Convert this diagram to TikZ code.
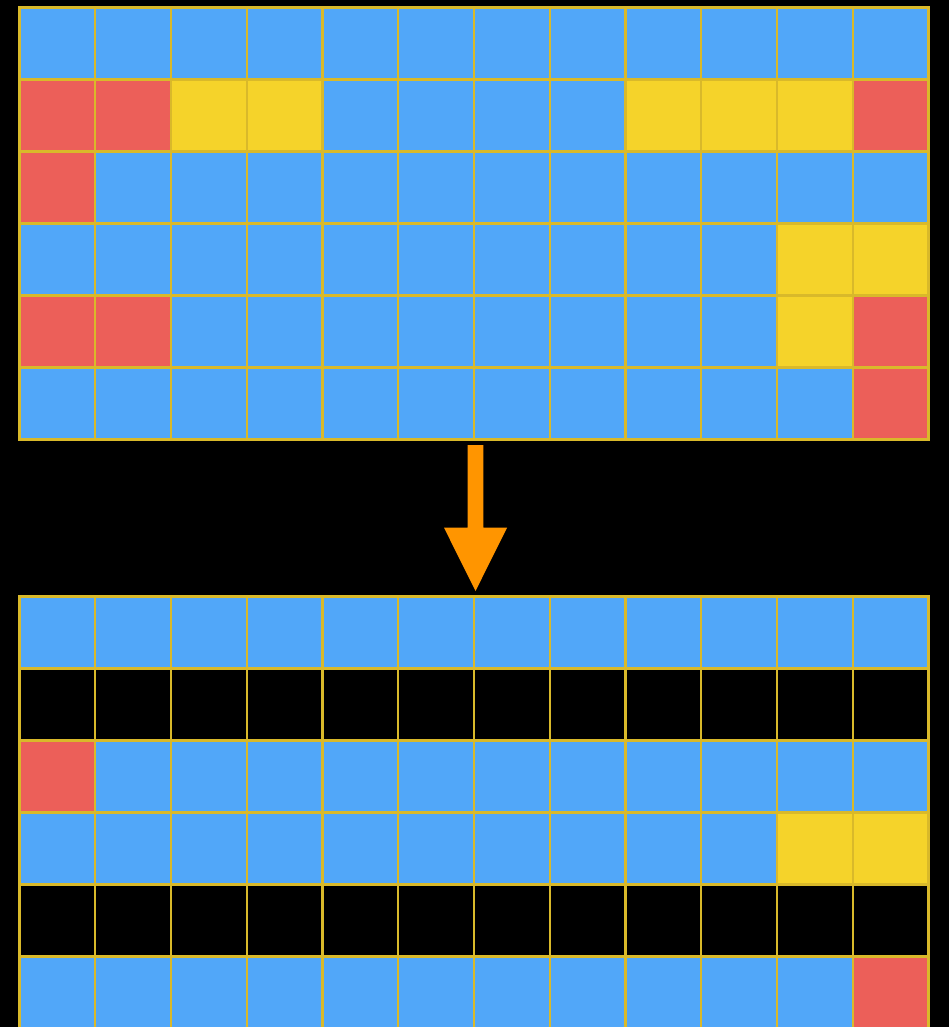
\documentclass[tikz,border=0pt]{standalone}
\usepackage{tikz}
\definecolor{cellblue}{HTML}{51A7F9}
\definecolor{cellred}{HTML}{EC5F59}
\definecolor{cellyellow}{HTML}{F5D32A}
\definecolor{cellblack}{HTML}{000000}
\definecolor{gridgold}{HTML}{D9B92A}
\definecolor{arroworange}{HTML}{FF9500}

\begin{document}
\begin{tikzpicture}[x=0.02cm, y=-0.02cm,
    cell/.style={draw=gridgold, line width=1.4pt, minimum width=1.5167cm,
      minimum height=1.44cm, inner sep=0pt, outer sep=0pt, anchor=north west}]
        \fill[black] (0,0) rectangle (949,1027);
        \useasboundingbox (0,0) rectangle (949,1027);

        % Top grid (before)
        \foreach \r/\cols in {
            0/{cellblue,cellblue,cellblue,cellblue,cellblue,cellblue,cellblue,cellblue,cellblue,cellblue,cellblue,cellblue},
            1/{cellred,cellred,cellyellow,cellyellow,cellblue,cellblue,cellblue,cellblue,cellyellow,cellyellow,cellyellow,cellred},
            2/{cellred,cellblue,cellblue,cellblue,cellblue,cellblue,cellblue,cellblue,cellblue,cellblue,cellblue,cellblue},
            3/{cellblue,cellblue,cellblue,cellblue,cellblue,cellblue,cellblue,cellblue,cellblue,cellblue,cellyellow,cellyellow},
            4/{cellred,cellred,cellblue,cellblue,cellblue,cellblue,cellblue,cellblue,cellblue,cellblue,cellyellow,cellred},
            5/{cellblue,cellblue,cellblue,cellblue,cellblue,cellblue,cellblue,cellblue,cellblue,cellblue,cellblue,cellred}}
          \foreach \col [count=\c from 0] in \cols
            \node[cell, fill=\col] (top-\r-\c) at ({19.5+75.75*\c}, {7.5+72*\r}) {};

        % Bottom grid (after)
        \foreach \r/\cols in {
            0/{cellblue,cellblue,cellblue,cellblue,cellblue,cellblue,cellblue,cellblue,cellblue,cellblue,cellblue,cellblue},
            1/{cellblack,cellblack,cellblack,cellblack,cellblack,cellblack,cellblack,cellblack,cellblack,cellblack,cellblack,cellblack},
            2/{cellred,cellblue,cellblue,cellblue,cellblue,cellblue,cellblue,cellblue,cellblue,cellblue,cellblue,cellblue},
            3/{cellblue,cellblue,cellblue,cellblue,cellblue,cellblue,cellblue,cellblue,cellblue,cellblue,cellyellow,cellyellow},
            4/{cellblack,cellblack,cellblack,cellblack,cellblack,cellblack,cellblack,cellblack,cellblack,cellblack,cellblack,cellblack},
            5/{cellblue,cellblue,cellblue,cellblue,cellblue,cellblue,cellblue,cellblue,cellblue,cellblue,cellblue,cellred}}
          \foreach \col [count=\c from 0] in \cols
            \node[cell, fill=\col, minimum width=1.515cm] (bot-\r-\c) at ({19.5+75.75*\c}, {596.5+72*\r}) {};

        % Arrow between the grids
        \coordinate (arrtop) at (475.5, 445);
        \coordinate (arrtip) at (475.5, 591);
        \fill[arroworange] (arrtop) ++(-7.8,0) -- ++(0,82.7) -- ++(-23.7,0)
          -- (arrtip) -- ++(31.6,-63.3) -- ++(-23.8,0) -- ++(0,-82.7) -- cycle;
      \end{tikzpicture}
\end{document}
